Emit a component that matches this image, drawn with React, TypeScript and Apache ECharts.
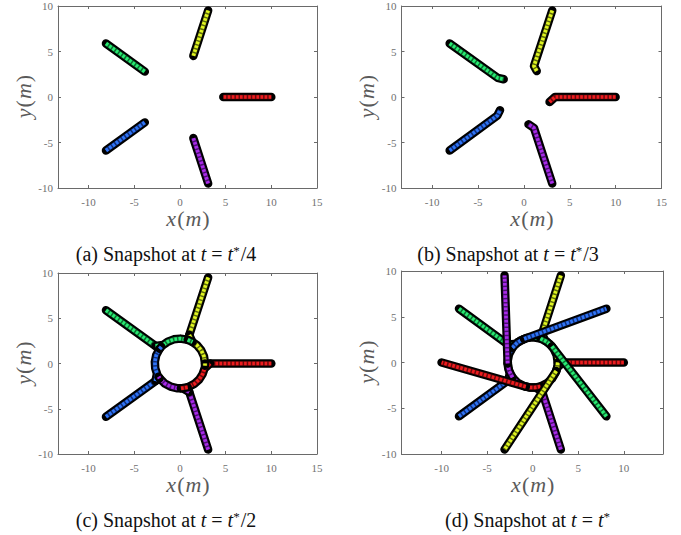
import React, { useEffect, useRef } from 'react';
import * as echarts from 'echarts';

type Pt = [number, number];

const robotNames = ['Robot 1', 'Robot 2', 'Robot 3', 'Robot 4', 'Robot 5'];
const robotColors = ['#ee1c1f', '#e0f522', '#28ea72', '#2f74f6', '#a82ae8'];
const robotDark = ['#6a0a0c', '#5e6a0c', '#0d6a30', '#102f78', '#4a1070'];

// (a) snapshot at t = t*/4
const pathsA: Pt[][] = [
  [[10, 0], [4.75, 0]],
  [[3.09, 9.51], [1.47, 4.52]],
  [[-8.09, 5.88], [-3.84, 2.79]],
  [[-8.09, -5.88], [-3.84, -2.79]],
  [[3.09, -9.51], [1.47, -4.52]],
];

// (b) snapshot at t = t*/3
const pathsB: Pt[][] = [
  [[10, 0], [3.4, 0], [2.8, -0.55]],
  [[3.09, 9.51], [1.1, 3.4], [1.4, 2.85]],
  [[-8.09, 5.88], [-2.85, 2.1], [-2.2, 1.95]],
  [[-8.09, -5.88], [-2.9, -2.05], [-2.6, -1.45]],
  [[3.09, -9.51], [1.1, -3.4], [0.5, -3.0]],
];

// (c),(d) straight approach
const inboundCD: Pt[][] = [
  [[10, 0], [3.3, 0]],
  [[3.09, 9.51], [1.02, 3.14]],
  [[-8.09, 5.88], [-2.67, 1.94]],
  [[-8.09, -5.88], [-2.67, -1.94]],
  [[3.09, -9.51], [1.02, -3.14]],
];

// (c),(d) first part of the roundabout
const arcFirstCD: Pt[][] = [
  [[3.3, 0], [2.69, -0.57], [2.49, -1.16], [2.11, -1.77], [1.58, -2.25], [0.85, -2.62]],
  [[1.02, 3.14], [1.375, 2.38], [1.88, 2.01], [2.33, 1.46], [2.63, 0.8], [2.75, 0]],
  [[-2.67, 1.94], [-1.84, 2.04], [-1.33, 2.41], [-0.67, 2.67], [0.05, 2.75], [0.85, 2.62]],
  [[-2.67, -1.94], [-2.51, -1.12], [-2.7, -0.53], [-2.74, 0.19], [-2.6, 0.9], [-2.22, 1.62]],
  [[1.02, -3.14], [0.29, -2.74], [-0.34, -2.73], [-1.03, -2.55], [-1.66, -2.2], [-2.22, -1.62]],
];

// (c) rest of the roundabout travelled at t*/2
const arcSecondC: Pt[][] = [
  [[0.85, -2.62], [0.1, -2.75]],
  [[2.75, 0], [2.74, -0.24]],
  [[0.85, 2.62], [1.375, 2.38]],
  [[-2.22, 1.62], [-2.04, 1.84]],
  [[-2.22, -1.62], [-2.33, -1.46]],
];

// (d) rest of the roundabout
const arcSecondD: Pt[][] = [
  [[0.85, -2.62], [0.24, -2.74], [-0.29, -2.73], [-0.76, -2.64]],
  [[2.75, 0], [2.71, -0.48], [2.58, -0.94]],
  [[0.85, 2.62], [1.54, 2.28], [2.11, 1.77]],
  [[-2.22, 1.62], [-1.66, 2.2], [-0.94, 2.58]],
  [[-2.22, -1.62], [-2.6, -0.9], [-2.75, -0.1]],
];

// (d) leaving to the goals
const outboundD: Pt[][] = [
  [[-0.76, -2.64], [-10, 0]],
  [[2.58, -0.94], [-3.09, -9.51]],
  [[2.11, 1.77], [8.09, -5.88]],
  [[-0.94, 2.58], [8.09, 5.88]],
  [[-2.75, -0.1], [-3.09, 9.51]],
];

const xTicksABC = [-10, -5, 0, 5, 10, 15];
const xTicksD = [-10, -5, 0, 5, 10];
const yTicks = [-10, -5, 0, 5, 10];
const xRangeABC: [number, number] = [-13.34, 15];
const xRangeD: [number, number] = [-14.4, 14.3];
const yRange: [number, number] = [-10, 10];

const captions = [
  { tag: '(a)', frac: '/4' },
  { tag: '(b)', frac: '/3' },
  { tag: '(c)', frac: '/2' },
  { tag: '(d)', frac: '' },
];

const panels = [
  { phases: [pathsA], xr: xRangeABC, xt: xTicksABC },
  { phases: [pathsB], xr: xRangeABC, xt: xTicksABC },
  { phases: [inboundCD, arcFirstCD, arcSecondC], xr: xRangeABC, xt: xTicksABC },
  { phases: [inboundCD, arcFirstCD, arcSecondD, outboundD], xr: xRangeD, xt: xTicksD },
];

const gridBoxes = [
  { left: 58, top: 6, width: 259, height: 182 },
  { left: 401.5, top: 6, width: 260, height: 182 },
  { left: 58, top: 273, width: 259, height: 181 },
  { left: 401.5, top: 271, width: 261.5, height: 183 },
];
const captionPos = [
  [166, 254],
  [508, 254],
  [166, 520],
  [528, 520],
];

const SERIF = '"Liberation Serif", "DejaVu Serif", serif';
const AX = '#6a6a6a';
const NAMEC = '#5a5a5a';
const CAP = 20;

function buildOption() {
  const grid: any[] = [];
  const xAxis: any[] = [];
  const yAxis: any[] = [];
  const series: any[] = [];
  const graphic: any[] = [];

  panels.forEach((p, g) => {
    grid.push({ ...gridBoxes[g], containLabel: false, show: false });
    const lineStyle = { color: AX, width: 1 };
    const tick = (vals: number[]) => ({ show: true, inside: true, length: 3, customValues: vals, lineStyle });
    const nameStyle = {
      fontSize: 22, fontFamily: SERIF, color: NAMEC,
      rich: { i: { fontStyle: 'italic', fontSize: 22, fontFamily: SERIF, color: NAMEC, padding: [0, 1, 0, 1] } },
    };
    xAxis.push({
      type: 'value', gridIndex: g, min: p.xr[0], max: p.xr[1], position: 'bottom',
      axisLine: { show: true, onZero: false, lineStyle },
      axisTick: tick(p.xt),
      axisLabel: { customValues: p.xt, color: '#707070', fontSize: 11, fontFamily: SERIF, margin: 8 },
      splitLine: { show: false },
      name: '{i|x}({i|m})', nameLocation: 'middle', nameGap: 19,
      nameTextStyle: nameStyle,
    });
    xAxis.push({
      type: 'value', gridIndex: g, min: p.xr[0], max: p.xr[1], position: 'top',
      axisLine: { show: true, onZero: false, lineStyle },
      axisTick: tick(p.xt), axisLabel: { show: false }, splitLine: { show: false },
    });
    yAxis.push({
      type: 'value', gridIndex: g, min: yRange[0], max: yRange[1], position: 'left',
      axisLine: { show: true, onZero: false, lineStyle },
      axisTick: tick(yTicks),
      axisLabel: { customValues: yTicks, color: '#707070', fontSize: 11, fontFamily: SERIF, margin: 5 },
      splitLine: { show: false },
      name: '{i|y}({i|m})', nameLocation: 'middle', nameGap: 24, nameRotate: 90,
      nameTextStyle: nameStyle,
    });
    yAxis.push({
      type: 'value', gridIndex: g, min: yRange[0], max: yRange[1], position: 'right',
      axisLine: { show: true, onZero: false, lineStyle },
      axisTick: tick(yTicks), axisLabel: { show: false }, splitLine: { show: false },
    });

    p.phases.forEach((phase) => {
      phase.forEach((pts, i) => {
        const common = {
          type: 'line', xAxisIndex: 2 * g, yAxisIndex: 2 * g, data: pts, name: robotNames[i],
          symbol: 'none', showSymbol: false, silent: true, clip: true,
        };
        series.push({ ...common, lineStyle: { color: '#000', width: 8.5, cap: 'round', join: 'round' } });
        series.push({ ...common, lineStyle: { color: robotDark[i], width: 4.5, cap: 'butt', join: 'round' } });
        series.push({ ...common, lineStyle: { color: robotColors[i], width: 3.6, type: [2.6, 1.5], cap: 'butt', join: 'round' } });
      });
    });

    const c = captions[g];
    graphic.push({
      type: 'text', x: captionPos[g][0], y: captionPos[g][1],
      style: {
        text: c.tag + ' Snapshot at {i|t}{e|=}{i|t}{s|*}' + c.frac,
        align: 'center', verticalAlign: 'middle',
        fontSize: CAP, fontFamily: SERIF, fill: '#111',
        rich: {
          i: { fontStyle: 'italic', fontSize: CAP, fontFamily: SERIF, fill: '#111' },
          e: { fontSize: CAP, fontFamily: SERIF, padding: [0, 5, 0, 5], fill: '#111' },
          s: { fontSize: 13, fontFamily: SERIF, padding: [0, 1, 7, 0], fill: '#111' },
        },
      },
    });
  });

  return { animation: false, backgroundColor: '#fff', grid, xAxis, yAxis, series, graphic };
}

export default function App() {
  const ref = useRef<HTMLDivElement>(null);
  useEffect(() => {
    if (!ref.current) return;
    const chart = echarts.init(ref.current, undefined, { renderer: 'svg', width: 681, height: 535 });
    chart.setOption(buildOption() as any);
    return () => chart.dispose();
  }, []);
  return (
    <div
      ref={ref}
      style={{ position: 'absolute', left: 0, top: 0, width: 681, height: 535, background: '#fff' }}
    />
  );
}
